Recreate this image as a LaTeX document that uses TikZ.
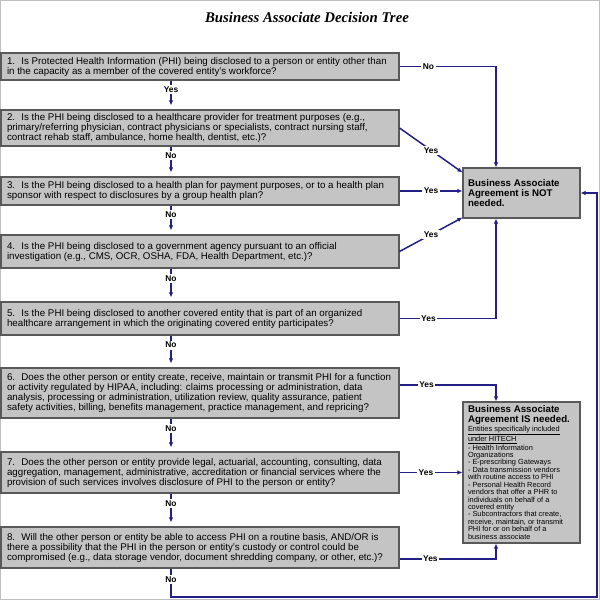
\documentclass[tikz,border=0pt]{standalone}
\usepackage{fontspec}
\setmainfont{Liberation Sans}
\newfontfamily\titlefont{Liberation Serif}
\usetikzlibrary{arrows.meta}

\definecolor{flowblue}{RGB}{36,30,135}
\definecolor{boxgray}{RGB}{196,196,196}

\tikzset{
  qbox/.style={draw=black!65, line width=1.1pt, fill=boxgray, text width=386pt,
    inner xsep=6pt, inner ysep=3pt, align=flush left, font=\fontsize{9.75}{10}\selectfont},
  abox/.style={draw=black!65, line width=1.1pt, fill=boxgray, text width=107pt,
    inner xsep=5pt, align=flush left},
  flow/.style={draw=flowblue, line width=1.5pt, -{Latex[length=5pt,width=4.5pt]}},
  lbl/.style={fill=white, inner sep=1.5pt, font=\fontsize{8.4}{9}\selectfont\bfseries}
}

\begin{document}
\begin{tikzpicture}[x=1pt, y=-1pt]
\newcommand{\qsteps}{q1/q2/Yes, q2/q3/No, q3/q4/No, q4/q5/No, q5/q6/No, q6/q7/No, q7/q8/No}

\useasboundingbox (0,0) rectangle (600,600);
\draw[black!25, line width=1pt] (0.5,0.5) rectangle (599.5,599.5);

\node[font=\titlefont\bfseries\itshape\fontsize{14.8}{16}\selectfont] (title) at (307,17)
  {Business Associate Decision Tree};

% questions
\node[qbox, minimum height=27pt] (q1) at (200,66.5)
  {1.~ Is Protected Health Information (PHI) being disclosed to a person or entity other than\\
   in the capacity as a member of the covered entity's workforce?};
\node[qbox, minimum height=36pt] (q2) at (200,128)
  {2.~ Is the PHI being disclosed to a healthcare provider for treatment purposes (e.g.,\\
   primary/referring physician, contract physicians or specialists, contract nursing staff,\\
   contract rehab staff, ambulance, home health, dentist, etc.)?};
\node[qbox, minimum height=28pt] (q3) at (200,191)
  {3.~ Is the PHI being disclosed to a health plan for payment purposes, or to a health plan\\
   sponsor with respect to disclosures by a group health plan?};
\node[qbox, minimum height=33pt] (q4) at (200,251.5)
  {4.~ Is the PHI being disclosed to a government agency pursuant to an official\\
   investigation (e.g., CMS, OCR, OSHA, FDA, Health Department, etc.)?};
\node[qbox, minimum height=33pt] (q5) at (200,318.5)
  {5.~ Is the PHI being disclosed to another covered entity that is part of an organized\\
   healthcare arrangement in which the originating covered entity participates?};
\node[qbox, minimum height=50pt] (q6) at (200,393)
  {6.~ Does the other person or entity create, receive, maintain or transmit PHI for a function\\
   or activity regulated by HIPAA, including: claims processing or administration, data\\
   analysis, processing or administration, utilization review, quality assurance, patient\\
   safety activities, billing, benefits management, practice management, and repricing?};
\node[qbox, minimum height=41pt] (q7) at (200,472.5)
  {7.~ Does the other person or entity provide legal, actuarial, accounting, consulting, data\\
   aggregation, management, administrative, accreditation or financial services where the\\
   provision of such services involves disclosure of PHI to the person or entity?};
\node[qbox, minimum height=41pt] (q8) at (200,547.5)
  {8.~ Will the other person or entity be able to access PHI on a routine basis, AND/OR is\\
   there a possibility that the PHI in the person or entity's custody or control could be\\
   compromised (e.g., data storage vendor, document shredding company, or other, etc.)?};

% answers
\node[abox, minimum height=50pt, font=\fontsize{9.7}{10}\selectfont\bfseries] (notbox) at (521.5,193)
  {Business Associate\\Agreement is NOT\\needed.};
\node[abox, minimum height=141pt] (isbox) at (521.5,472.5)
  {{\raggedright\fontsize{9.7}{10}\selectfont\bfseries Business Associate\\Agreement IS needed.\par}
   \vspace{1.5pt}
   {\raggedright\fontsize{7.4}{7.43}\selectfont
   \underline{Entities specifically included}\\
   \underline{under HITECH}\\
   - Health Information\\
   Organizations\\
   - E-prescribing Gateways\\
   - Data transmission vendors\\
   with routine access to PHI\\
   - Personal Health Record\\
   vendors that offer a PHR to\\
   individuals on behalf of a\\
   covered entity\\
   - Subcontractors that create,\\
   receive, maintain, or transmit\\
   PHI for or on behalf of a\\
   business associate\par}};

\coordinate (spine) at (171,0);
\coordinate (corner) at (597,597);
\coordinate (nottop) at ([xshift=-25.5pt]notbox.north);
\coordinate (notbot) at ([xshift=-25.5pt]notbox.south);
\coordinate (istop) at ([xshift=-25.5pt]isbox.north);
\coordinate (isbot) at ([xshift=-25.5pt]isbox.south);

% down the spine
\foreach \a/\b/\t in \qsteps
  \draw[flow, shorten >=4pt] (spine |- \a.south) -- node[lbl, pos=.3] {\t} (spine |- \b.north);

% over to the answers
\draw[flow] (q1.east) -- node[lbl, pos=.3] {No} (q1.east -| nottop) -- (nottop);
\draw[flow] (q2.east) -- node[lbl] {Yes} ([yshift=-5pt]notbox.north west);
\draw[flow] (q3.east) -- node[lbl] {Yes} (q3.east -| notbox.west);
\draw[flow] (q4.east) -- node[lbl] {Yes} ([yshift=1pt]notbox.south west);
\draw[flow] (q5.east) -- node[lbl, pos=.3] {Yes} (q5.east -| notbot) -- (notbot);
\draw[flow] ([yshift=8pt]q6.east) -- node[lbl, pos=.28] {Yes} ([yshift=8pt]q6.east -| istop) -- (istop);
\draw[flow] (q7.east) -- node[lbl, pos=.42] {Yes} (q7.east -| isbox.west);
\draw[flow] ([yshift=-11.5pt]q8.east) -- node[lbl, pos=.32] {Yes} ([yshift=-11.5pt]q8.east -| isbot) -- (isbot);
\draw[flow] (spine |- q8.south) -- node[lbl, pos=.38] {No} (spine |- corner) -- (corner)
  -- (corner |- notbox.east) -- (notbox.east);
\end{tikzpicture}
\end{document}
